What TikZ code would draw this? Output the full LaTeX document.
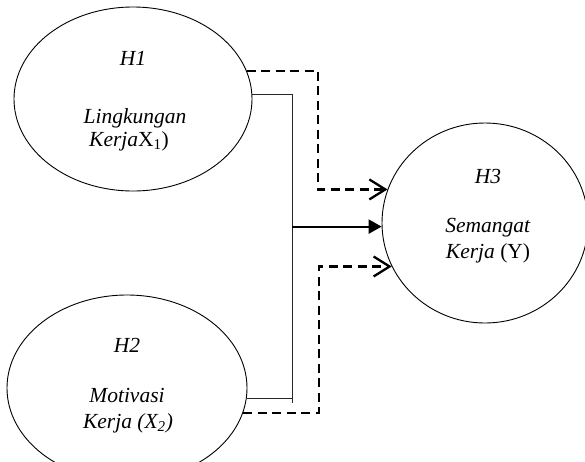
\documentclass[tikz,border=0pt]{standalone}
\usepackage{fontspec}
\setmainfont{Liberation Serif}
\usetikzlibrary{shapes.geometric,arrows.meta}

\begin{document}
\begin{tikzpicture}[x=1pt, y=-1pt,
  oval/.style={draw, ellipse, line width=0.9pt, inner sep=0pt},
  txt/.style={anchor=base, inner sep=0pt, font=\fontsize{21.5}{25}\selectfont},
  link/.style={line width=1pt, black!85},
  mainlink/.style={line width=2.2pt, -{Triangle[length=13pt,width=14pt]}},
  dashlink/.style={line width=2.3pt, dash pattern=on 9pt off 5.5pt,
    -{Straight Barb[length=16pt,width=20pt,line width=2.3pt]}}]
\def\busx{292}
\useasboundingbox (0,0) rectangle (585,461);

% ELLIPSES
\node[oval, minimum width=238pt, minimum height=184pt] (x1) at (133,99) {};
\node[oval, minimum width=240pt, minimum height=186pt] (x2) at (127,388) {};
\node[oval, minimum width=206pt, minimum height=200pt] (y) at (485,223) {};

% TEXTS
\node[txt] (h1) at (133,65) {\textit{H1}};
\node[txt] (l1a) at (135,123) {\textit{Lingkungan}};
\node[txt] (l1b) at (129,146) {\textit{Kerja}X\textsubscript{1})};

\node[txt] (h2) at (127,352) {\textit{H2}};
\node[txt] (l2a) at (127,402) {\textit{Motivasi}};
\node[txt] (l2b) at (128,428) {\textit{Kerja (X\textsubscript{2})}};

\node[txt] (h3) at (488,183) {\textit{H3}};
\node[txt] (l3a) at (488,232) {\textit{Semangat}};
\node[txt] (l3b) at (488,258) {\textit{Kerja} (Y)};

% CONNECTORS
\coordinate (busend) at (\busx,403);
\coordinate (d1) at (318,130);
\coordinate (d2) at (319,340);

\draw[link] (x1.2) -| (busend);
\draw[link] (x2.-5) -- (x2.-5 -| busend);
\draw[mainlink] (y.182 -| busend) -- (y.182);

\draw[dashlink] (x1.14) -| (d1) |- (y.161);
\draw[dashlink] (x2.-12) -| (d2) |- (y.205);
\end{tikzpicture}
\end{document}
